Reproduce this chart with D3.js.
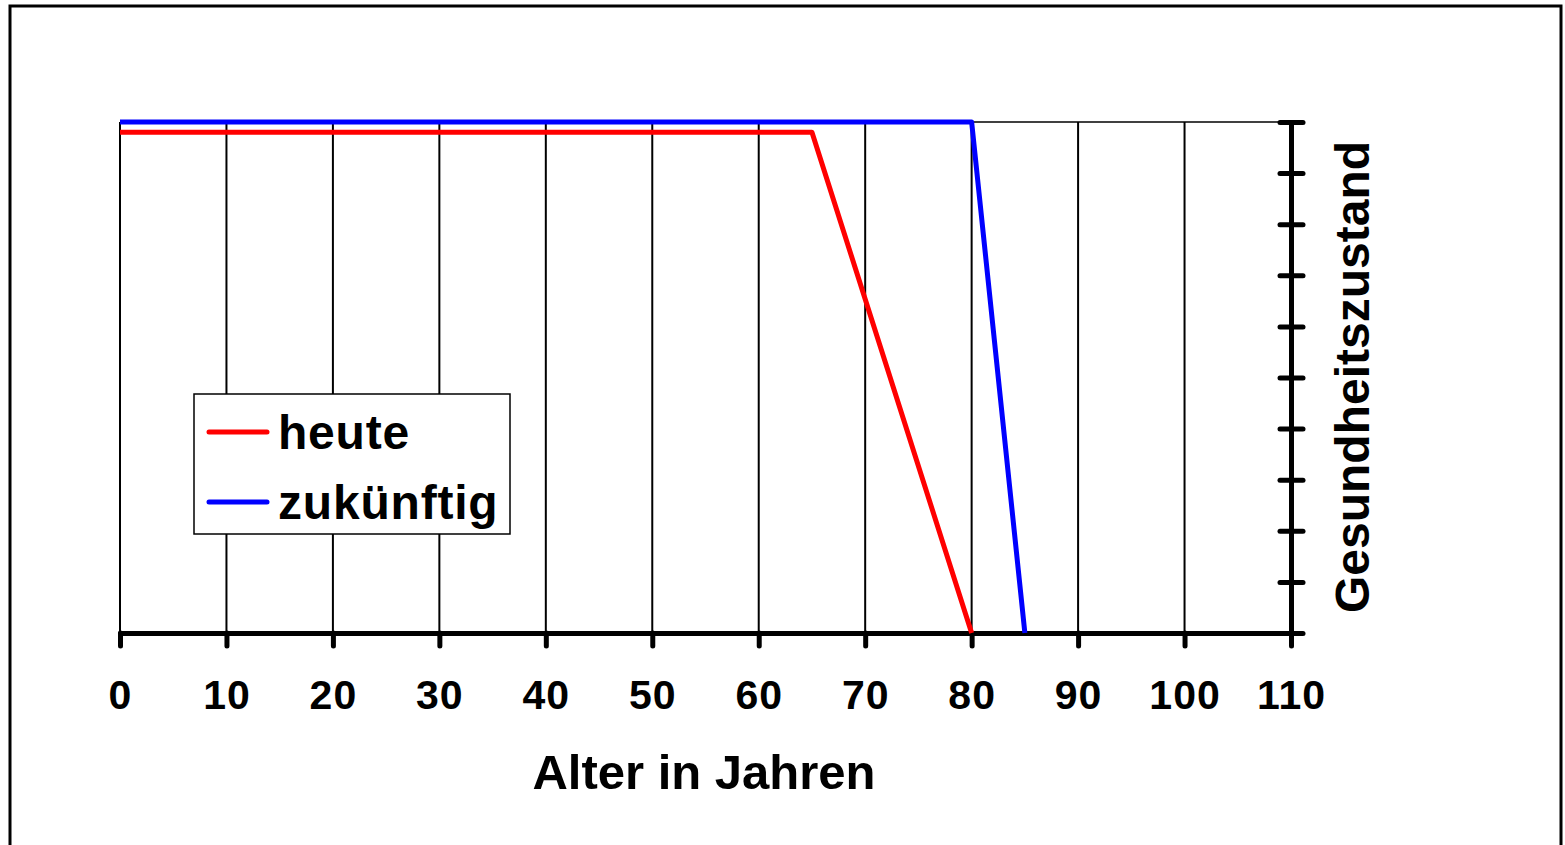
<!DOCTYPE html>
<html>
<head>
<meta charset="utf-8">
<script src="https://cdn.jsdelivr.net/npm/d3@7"></script>
<style>
  body { margin: 0; background: #fff; }
  text { font-family: "Liberation Sans", Arial, sans-serif; font-weight: bold; }
</style>
</head>
<body>
<div id="chart"></div>
<script>
// data
var xTicks = [0, 10, 20, 30, 40, 50, 60, 70, 80, 90, 100, 110];
var yTicks = [0, 0.1, 0.2, 0.3, 0.4, 0.5, 0.6, 0.7, 0.8, 0.9, 1];
var heuteAge = [0, 65, 80];
var heuteHealth = [0.98, 0.98, 0];
var zukunftAge = [0, 80, 85];
var zukunftHealth = [1, 1, 0];
var seriesNames = ["heute", "zukünftig"];
var seriesColors = ["#ff0000", "#0000ff"];

var width = 1565, height = 845;

var svg = d3.select("#chart")
  .append("svg")
  .attr("width", width)
  .attr("height", height);

// outer frame
svg.append("rect")
  .attr("x", 10).attr("y", 6)
  .attr("width", 1551).attr("height", 860)
  .attr("fill", "none")
  .attr("stroke", "#000")
  .attr("stroke-width", 3);

var x = d3.scaleLinear().domain([0, 110]).range([120, 1291]);
var y = d3.scaleLinear().domain([0, 1]).range([633, 122]);

// vertical grid
svg.append("g")
  .selectAll("line")
  .data(xTicks)
  .enter().append("line")
  .attr("x1", function(d) { return x(d); })
  .attr("x2", function(d) { return x(d); })
  .attr("y1", y(0))
  .attr("y2", y(1))
  .style("stroke", "#000")
  .style("stroke-width", "2px");

// top line of plot area
svg.append("line")
  .attr("x1", x(0)).attr("x2", x(110))
  .attr("y1", y(1)).attr("y2", y(1))
  .style("stroke", "#000")
  .style("stroke-width", "1.5px");

// x axis
var xAxis = svg.append("g")
  .attr("transform", "translate(0," + y(0) + ")")
  .call(d3.axisBottom(x).tickValues(xTicks).tickSize(13).tickSizeOuter(0).tickPadding(34));
xAxis.select(".domain").attr("stroke-width", 5).attr("stroke-linecap", "round");
xAxis.selectAll(".tick line").attr("stroke-width", 5).attr("stroke-linecap", "round");
xAxis.selectAll(".tick text")
  .style("font-size", "41px")
  .style("letter-spacing", "1px")
  .attr("fill", "#000");

// right axis with cross ticks
var yAxis = svg.append("g")
  .attr("transform", "translate(" + x(110) + ",0)")
  .call(d3.axisRight(y).tickValues(yTicks).tickSize(12).tickSizeOuter(0).tickFormat(""));
yAxis.select(".domain").attr("stroke-width", 5).attr("stroke-linecap", "round");
yAxis.selectAll(".tick line")
  .attr("x1", -11)
  .attr("stroke-width", 5)
  .attr("stroke-linecap", "round");

// axis titles
svg.append("text")
  .attr("x", 704)
  .attr("y", 789)
  .attr("text-anchor", "middle")
  .style("font-size", "49px")
  .text("Alter in Jahren");

svg.append("text")
  .attr("transform", "translate(1369," + 377 + ") rotate(-90)")
  .attr("text-anchor", "middle")
  .style("font-size", "48px")
  .text("Gesundheitszustand");

// lines
var line = d3.line()
  .x(function(d) { return x(d[0]); })
  .y(function(d) { return y(d[1]); });

var series = [
  d3.zip(heuteAge, heuteHealth),
  d3.zip(zukunftAge, zukunftHealth)
];

svg.append("g")
  .selectAll("path")
  .data(series)
  .enter().append("path")
  .attr("d", line)
  .attr("fill", "none")
  .attr("stroke", function(d, i) { return seriesColors[i]; })
  .attr("stroke-width", 5)
  .attr("stroke-linejoin", "round");

// legend
var legend = svg.append("g");
legend.append("rect")
  .attr("x", 194).attr("y", 394)
  .attr("width", 316).attr("height", 140)
  .attr("fill", "#fff")
  .attr("stroke", "#000")
  .attr("stroke-width", 1.5);

var items = legend.selectAll("g.item")
  .data(seriesNames)
  .enter().append("g")
  .attr("class", "item")
  .attr("transform", function(d, i) { return "translate(0," + (432 + i * 70) + ")"; });

items.append("line")
  .attr("x1", 209).attr("x2", 267)
  .attr("y1", 0).attr("y2", 0)
  .attr("stroke", function(d, i) { return seriesColors[i]; })
  .attr("stroke-width", 5)
  .attr("stroke-linecap", "round");

items.append("text")
  .attr("x", 278)
  .attr("y", 17)
  .style("font-size", "48px")
  .style("letter-spacing", "0.8px")
  .text(function(d) { return d; });
</script>
</body>
</html>
